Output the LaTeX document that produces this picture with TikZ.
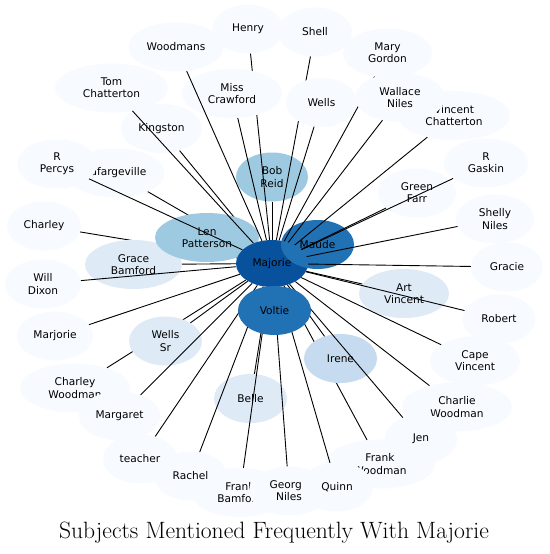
\documentclass[tikz,border=0pt]{standalone}
\usepackage{fontspec}
\newfontfamily\labelfont{DejaVu Sans}
\usetikzlibrary{shapes.geometric}

\definecolor{blues0}{HTML}{F7FBFF}
\definecolor{blues2}{HTML}{DEEBF7}
\definecolor{blues3}{HTML}{C6DBEF}
\definecolor{blues4}{HTML}{9ECAE1}
\definecolor{blues6}{HTML}{2171B5}
\definecolor{blues7}{HTML}{08519C}

\newcommand{\subjfont}{\labelfont\fontsize{10.6}{12.2}\selectfont}
\newcommand{\titlefont}{\fontsize{23.6}{27}\selectfont}

%% drawing order: far nodes, hidden links, near nodes, visible links
\pgfdeclarelayer{farnodes}
\pgfdeclarelayer{hiddenlinks}
\pgfdeclarelayer{nearnodes}
\pgfsetlayers{farnodes,hiddenlinks,nearnodes,main}

\begin{document}
\begin{tikzpicture}[
  x=1pt, y=-1pt,
  %% subject ellipses
  subj/.style={
    ellipse, fill=blues0, inner sep=0pt,
    minimum height=49pt, align=center,
    text=black, font=\subjfont
  },
  %% links to the hub
  tie/.style={line width=0.9pt, black},
  %% title
  heading/.style={font=\titlefont, anchor=base}
]

%% ================================================================
%% FAR NODES (links run over them)
%% ================================================================
\begin{pgfonlayer}{farnodes}
\path[use as bounding box, fill=white] (0,0) rectangle (549,554);

\node[subj, minimum width=71pt]  (henry)   at (248,29)    {Henry};
\node[subj, minimum width=74pt]  (shell)   at (315,32)    {Shell};
\node[subj, minimum width=95pt]  (woodmans) at (176,47)   {Woodmans};
\node[subj, minimum width=89pt]  (marygordon) at (387.5,53) {Mary\\Gordon};
\node[subj, minimum width=113pt] (tomchatterton) at (111.5,88) {Tom\\Chatterton};
\node[subj, minimum width=112pt] (vincentchatterton) at (454,115.5) {Vincent\\Chatterton};
\node[subj, minimum width=81pt]  (kingston) at (161.5,128.5) {Kingston};
\node[subj, minimum width=72pt, fill=blues4] (bobreid) at (272,177) {Bob\\Reid};
\node[subj, minimum width=98pt]  (lafargeville) at (115.5,173) {Lafargeville};
\node[subj, minimum width=80pt]  (rpercys) at (57,164)    {R\\Percys};
\node[subj, minimum width=78pt]  (greenfarr) at (417,193) {Green\\Farr};
\node[subj, minimum width=84pt]  (rgaskin) at (486,163)   {R\\Gaskin};
\node[subj, minimum width=74pt]  (charley) at (44,226)    {Charley};
\node[subj, minimum width=78pt]  (shellyniles) at (495,219) {Shelly\\Niles};
\node[subj, minimum width=72pt]  (gracie)  at (507,267)   {Gracie};
\node[subj, minimum width=76pt]  (willdixon) at (43,284)  {Will\\Dixon};
\node[subj, minimum width=90pt, fill=blues2] (artvincent) at (404,293.5) {Art\\Vincent};
\node[subj, minimum width=73pt]  (robert)  at (499,319)   {Robert};
\node[subj, minimum width=76pt]  (marjorie) at (55,336)   {Marjorie};
\node[subj, minimum width=90pt]  (capevincent) at (475,361) {Cape\\Vincent};
\node[subj, minimum width=110pt] (charleywoodman) at (75,388) {Charley\\Woodman};
\node[subj, minimum width=73pt, fill=blues2] (belle) at (250.5,398.5) {Belle};
\node[subj, minimum width=110pt] (charliewoodman) at (457,407) {Charlie\\Woodman};
\node[subj, minimum width=81pt]  (margaret) at (119.5,416) {Margaret};
\node[subj, minimum width=72pt]  (jen)     at (421,439)   {Jen};
\node[subj, minimum width=74pt]  (teacher) at (140,459)   {teacher};
\node[subj, minimum width=110pt] (frankwoodman) at (380,464) {Frank\\Woodman};
\node[subj, minimum width=96pt]  (frankbamford) at (240,492.5) {Frank\\Bamford};
\node[subj, minimum width=73pt]  (rachel)  at (190.5,476) {Rachel};
\node[subj, minimum width=80pt]  (georgeniles) at (289,491) {George\\Niles};
\node[subj, minimum width=72pt]  (quinn)   at (337,487)   {Quinn};
\end{pgfonlayer}

%% ================================================================
%% NEAR NODES (they hide some links)
%% ================================================================
\begin{pgfonlayer}{nearnodes}
\node[subj, minimum width=97pt, fill=blues2] (gracebamford) at (133.5,264.5) {Grace\\Bamford};
\node[subj, minimum width=104pt, fill=blues4] (lenpatterson) at (207,237.5) {Len\\Patterson};
\node[subj, minimum width=72pt, minimum height=47pt, fill=blues7] (majorie) at (272,263.5) {Majorie};
\node[subj, minimum width=73pt, fill=blues6] (maude) at (317.5,244.5) {Maude};
\node[subj, minimum width=100pt] (misscrawford) at (232,93.5) {Miss\\Crawford};
\node[subj, minimum width=71pt]  (wells)   at (321.5,102.5) {Wells};
\node[subj, minimum width=73pt, fill=blues2] (wellssr) at (165.5,341) {Wells\\Sr};
\node[subj, minimum width=73pt, fill=blues3] (irene) at (340.5,358.5) {Irene};

\draw[tie] (marygordon) -- (majorie);
\draw[tie] (jen) -- (majorie);
\draw[tie] (irene) -- (majorie);

\node[subj, minimum width=90pt]  (wallaceniles) at (400,97.5) {Wallace\\Niles};
\end{pgfonlayer}

\node[subj, minimum width=73pt, fill=blues6] (voltie) at (274.5,310.5) {Voltie};

%% ================================================================
%% HIDDEN LINKS (partly under near nodes)
%% ================================================================
\begin{pgfonlayer}{hiddenlinks}
\draw[tie] (henry) -- (majorie);
\draw[tie] (shell) -- (majorie);
\draw[tie] (kingston) -- (majorie);
\draw[tie] (lafargeville) -- (majorie);
\draw[tie] (charley) -- (majorie);
\draw[tie] (lenpatterson) -- (majorie);
\draw[tie] (maude) -- (majorie);
\draw[tie] (voltie) -- (majorie);
\draw[tie] (charleywoodman) -- (majorie);
\draw[tie] (teacher) -- (majorie);
\draw[tie] (rachel) -- (majorie);
\draw[tie] (belle) -- (majorie);
\draw[tie] (frankbamford) -- (majorie);
\draw[tie] (georgeniles) -- (majorie);
\draw[tie] (quinn) -- (majorie);
\draw[tie] (frankwoodman) -- (majorie);
\end{pgfonlayer}

%% ================================================================
%% VISIBLE LINKS
%% ================================================================
\draw[tie] (woodmans) -- (majorie);
\draw[tie] (misscrawford) -- (majorie);
\draw[tie] (wells) -- (majorie);
\draw[tie] (bobreid) -- (majorie);
\draw[tie] (tomchatterton) -- (majorie);
\draw[tie] (rpercys) -- (majorie);
\draw[tie] (wallaceniles) -- (majorie);
\draw[tie] (vincentchatterton) -- (majorie);
\draw[tie] (greenfarr) -- (majorie);
\draw[tie] (rgaskin) -- (majorie);
\draw[tie] (shellyniles) -- (majorie);
\draw[tie] (gracie) -- (majorie);
\draw[tie] (artvincent) -- (majorie);
\draw[tie] (robert) -- (majorie);
\draw[tie] (capevincent) -- (majorie);
\draw[tie] (charliewoodman) -- (majorie);
\draw[tie] (gracebamford) -- (majorie);
\draw[tie] (willdixon) -- (majorie);
\draw[tie] (marjorie) -- (majorie);
\draw[tie] (wellssr) -- (majorie);
\draw[tie] (margaret) -- (majorie);

%% ================================================================
%% TITLE
%% ================================================================
\node[heading] (title) at (274,538) {Subjects Mentioned Frequently With Majorie};

\end{tikzpicture}
\end{document}
